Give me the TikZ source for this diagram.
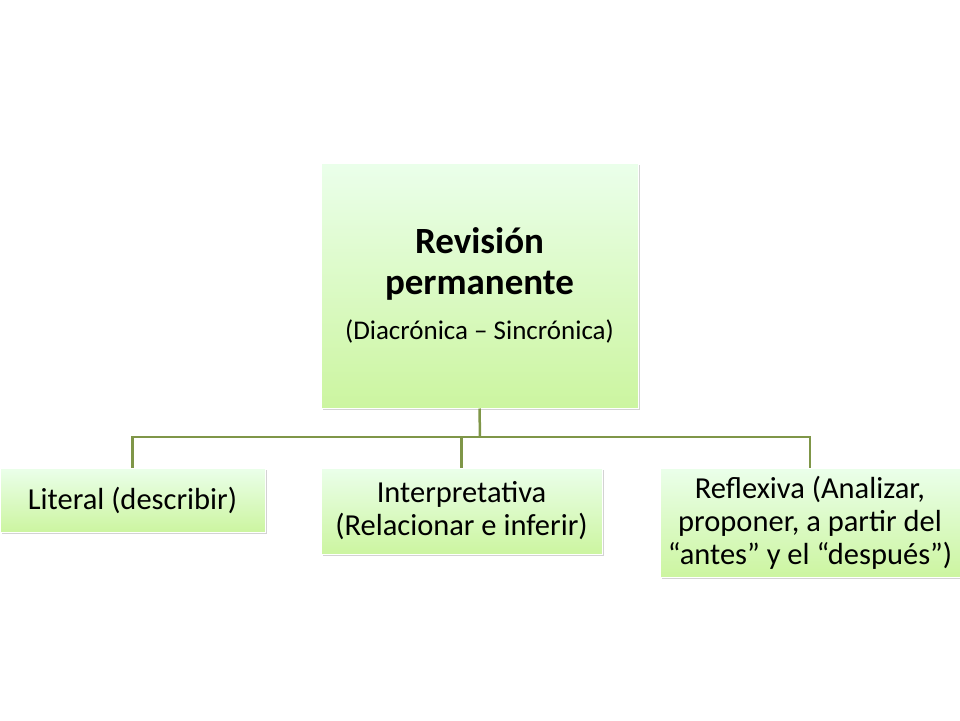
\documentclass[tikz,border=0pt]{standalone}
\usepackage{fontspec}
\setmainfont{Carlito}
\usetikzlibrary{shadows}
\begin{document}
\begin{tikzpicture}[x=1pt,y=-1pt,
  box/.style={draw=white,line width=1pt,top color=green!8!white,bottom color={rgb,255:red,204;green,245;blue,160},
    drop shadow={shadow xshift=1.5pt,shadow yshift=-1.5pt,opacity=0.35},inner sep=2pt,align=center},
  conn/.style={draw={rgb,255:red,127;green,150;blue,72},line width=2.5pt},
  kid/.style={font=\fontsize{30.5}{33}\selectfont}]
\useasboundingbox (0,0) rectangle (960,720);
\node[box,minimum width=317pt,minimum height=245pt,font=\fontsize{37}{41}\selectfont] (root) at (479.5,285.5)
 {\bfseries Revisión\\\bfseries permanente\\[4pt]\fontsize{27}{30}\selectfont(Diacrónica – Sincrónica)};
\node[box,kid,minimum width=265pt,minimum height=64pt] (a) at (132.5,500) {Literal (describir)};
\node[box,kid,minimum width=281pt,minimum height=86pt] (b) at (461.5,511) {Interpretativa\\(Relacionar e inferir)};
\node[box,kid,minimum width=300pt,minimum height=109pt] (c) at (810,522.5) {Reflexiva (Analizar,\\proponer, a partir del\\“antes” y el “después”)};
\coordinate (h) at (480,437);
\draw[conn] (root.south) -- (h);
\draw[conn] (a.north) -- (a.north |- h) -- (c.north |- h) -- (c.north);
\draw[conn] (b.north) -- (b.north |- h);
\end{tikzpicture}
\end{document}
